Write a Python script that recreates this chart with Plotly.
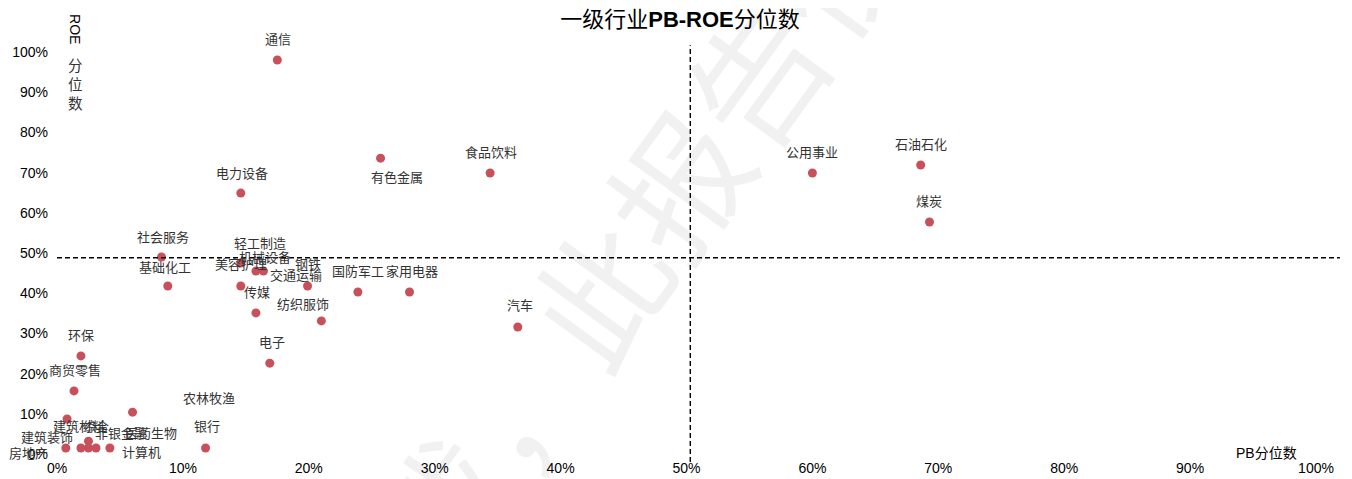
import plotly.graph_objects as go

# industry names and their PB / ROE percentile (fractions)
industries = ["通信", "有色金属", "食品饮料", "公用事业", "石油石化", "煤炭", "电力设备",
              "社会服务", "基础化工", "轻工制造", "机械设备", "钢铁", "美容护理", "交通运输",
              "传媒", "纺织服饰", "国防军工", "家用电器", "汽车", "电子", "环保", "商贸零售",
              "农林牧渔", "银行", "建筑材料", "综合", "房地产", "建筑装饰", "非银金融",
              "医药生物", "计算机"]
pb_pct = [0.175, 0.257, 0.344, 0.600, 0.686, 0.693, 0.146,
          0.083, 0.088, 0.146, 0.158, 0.164, 0.146, 0.199,
          0.158, 0.210, 0.239, 0.280, 0.366, 0.169, 0.019, 0.0135,
          0.060, 0.118, 0.008, 0.025, 0.007, 0.019, 0.025,
          0.031, 0.042]
roe_pct = [0.980, 0.736, 0.699, 0.699, 0.719, 0.577, 0.649,
           0.490, 0.418, 0.475, 0.455, 0.455, 0.418, 0.418,
           0.351, 0.331, 0.403, 0.403, 0.316, 0.226, 0.244, 0.157,
           0.104, 0.015, 0.087, 0.032, 0.015, 0.015, 0.015,
           0.015, 0.015]

pb_median = 0.503
roe_median = 0.488

# label offsets in px (x, y up) to mimic the hand-placed labels
label_shift = {
    "通信": (1, 22), "有色金属": (16, -18), "食品饮料": (1, 22), "公用事业": (0, 22),
    "石油石化": (0, 21), "煤炭": (0, 22), "电力设备": (1, 21), "社会服务": (1, 21),
    "基础化工": (-3, 19), "轻工制造": (19, 21), "机械设备": (9, 15), "钢铁": (45, 8),
    "美容护理": (0, 22), "交通运输": (-12, 11), "传媒": (1, 21), "纺织服饰": (-18, 17),
    "国防军工": (0, 21), "家用电器": (2, 21), "汽车": (2, 22), "电子": (2, 22),
    "环保": (0, 21), "商贸零售": (1, 21), "农林牧渔": (76, 15), "银行": (1, 22),
    "建筑材料": (12, -6), "综合": (8, 16), "房地产": (-37, -5), "建筑装饰": (-34, 11),
    "非银金融": (33, 15), "医药生物": (55, 15), "计算机": (32, -4),
}

cjk = "Noto Sans CJK SC"
fig = go.Figure()

# faint watermark (drawn first so it sits under everything)
fig.add_annotation(xref="paper", yref="paper", x=0.428, y=0.408, showarrow=False,
                   text="下载，此报告仅", textangle=-54,
                   font=dict(family=cjk, size=134, color="rgba(0,0,0,0.055)"))

fig.add_trace(go.Scatter(
    x=pb_pct, y=roe_pct, mode="markers",
    marker=dict(size=9, color="#C8505A"),
    hovertext=industries, showlegend=False, cliponaxis=False,
))

for name, xv, yv in zip(industries, pb_pct, roe_pct):
    dx, dy = label_shift[name]
    fig.add_annotation(x=xv, y=yv, text=name, showarrow=False,
                       xshift=dx, yshift=dy,
                       font=dict(family=cjk, size=13, color="#333333"))

# median cross lines
fig.add_shape(type="line", xref="x", yref="paper", x0=pb_median, x1=pb_median,
              y0=-0.02, y1=1.017, line=dict(color="black", width=1.4, dash="5px,3px"))
fig.add_shape(type="line", xref="paper", yref="y", x0=0, x1=1.019,
              y0=roe_median, y1=roe_median, line=dict(color="black", width=1.4, dash="5px,3px"))

# axis titles in Excel-like vertical style
fig.add_annotation(xref="paper", yref="paper", x=0.0143, y=1.057,
                   xanchor="center", yanchor="middle",
                   showarrow=False, text="ROE", textangle=90,
                   font=dict(family="Liberation Sans", size=14, color="black"))
fig.add_annotation(xref="paper", yref="paper", x=0.0143, y=0.922,
                   xanchor="center", yanchor="middle",
                   showarrow=False, text="分<br>位<br>数",
                   font=dict(family=cjk, size=14.5, color="#333333"))
fig.add_annotation(xref="paper", yref="paper", x=0.961, y=0.005,
                   xanchor="center", yanchor="middle",
                   showarrow=False, text="PB<span style='font-family:Noto Sans CJK SC'>分位数</span>",
                   font=dict(family="Liberation Sans", size=14, color="black"))

fig.update_layout(
    width=1344, height=471,
    margin=dict(l=49, r=36, t=44, b=25),
    paper_bgcolor="white", plot_bgcolor="white",
    title=dict(text="一级行业<b>PB-ROE</b>分位数", x=0.5, xanchor="center",
               y=0.977, yanchor="middle",
               font=dict(family="Liberation Sans, " + cjk, size=22, color="black")),
    xaxis=dict(range=[0, 1], tickformat=".0%", dtick=0.1, showgrid=False,
               zeroline=False, showline=False, ticks="", ticklabelstandoff=4,
               automargin=False,
               tickfont=dict(family="Liberation Sans", size=14, color="black")),
    yaxis=dict(range=[0, 1], tickformat=".0%", dtick=0.1, showgrid=False,
               zeroline=False, showline=False, ticks="", ticklabelstandoff=8,
               automargin=False,
               tickfont=dict(family="Liberation Sans", size=14, color="black")),
)

fig.write_html("out.html")
